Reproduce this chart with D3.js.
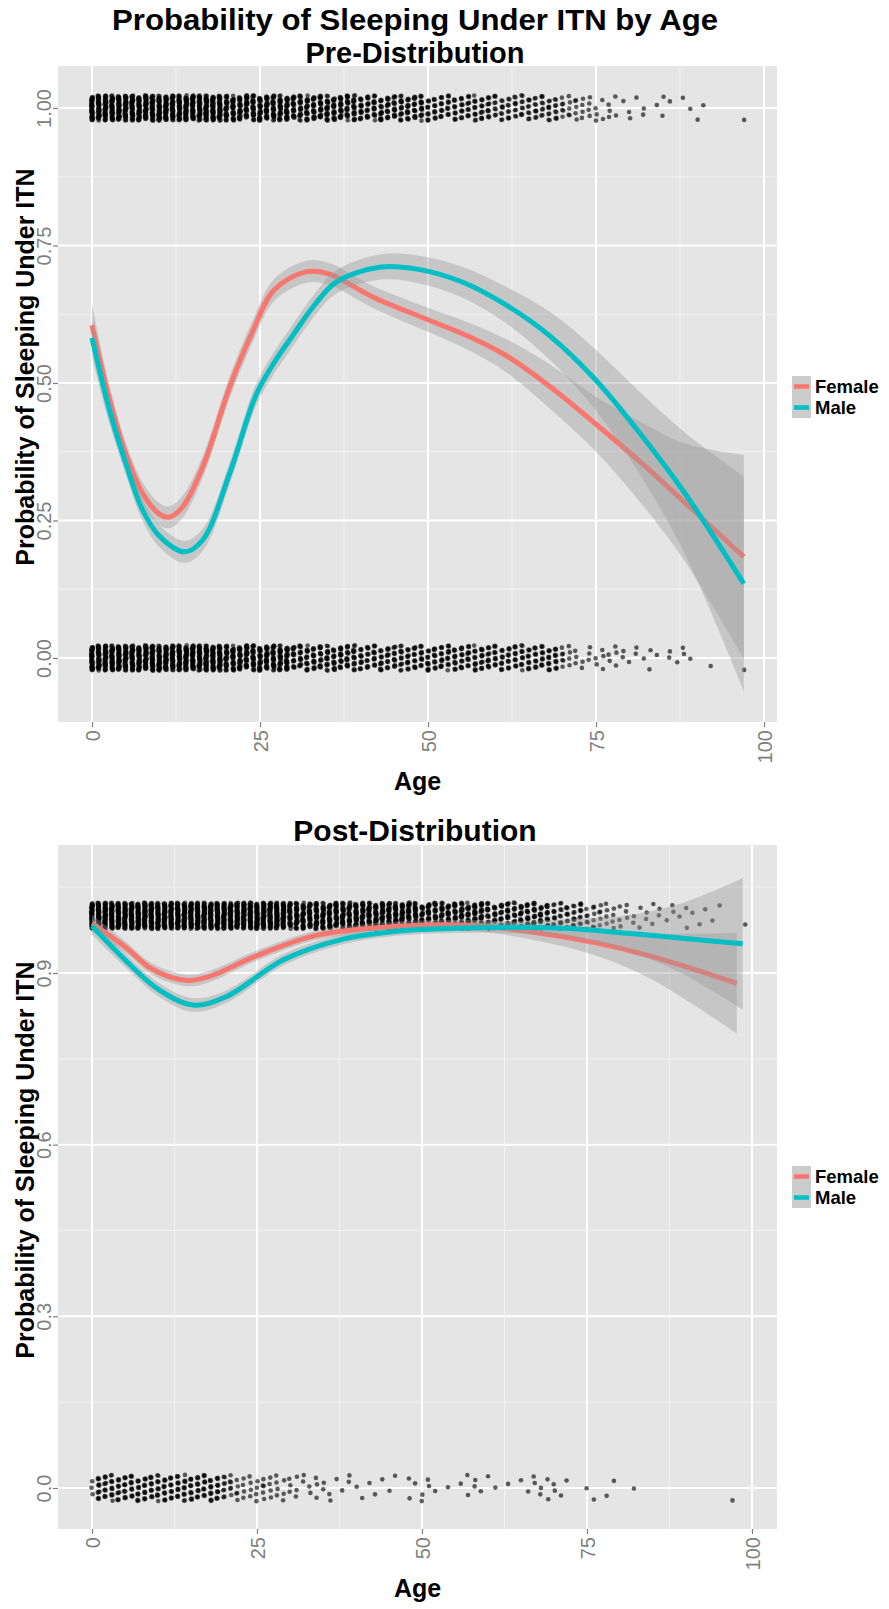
<!DOCTYPE html>
<html><head><meta charset="utf-8">
<script src="https://cdn.jsdelivr.net/npm/d3@7"></script>
<style>
body{margin:0;background:#fff}
text{font-family:"Liberation Sans",Arial,sans-serif}
</style>
</head><body>
<svg id="chart" width="889" height="1609"></svg>
<script>
// ---------------- DATA ----------------
const seriesNames = ["Female", "Male"];
const seriesColors = ["#F8766D", "#00BFC4"];

// Pre-distribution smooth fits (age, fitted probability, CI half-width)
const preFemaleAge = [0, 2.5, 5, 7.5, 10, 11.5, 13.5, 16.5, 20.5, 23.8, 27.1, 31.8, 35.1, 41.7, 50, 56, 61.6, 68, 75, 82, 88.2, 97];
const preFemaleFit = [0.605, 0.475, 0.372, 0.30, 0.262, 0.256, 0.275, 0.348, 0.493, 0.591, 0.669, 0.702, 0.699, 0.657, 0.615, 0.585, 0.550, 0.495, 0.425, 0.352, 0.283, 0.184];
const preFemaleCI  = [0.04, 0.026, 0.021, 0.02, 0.02, 0.02, 0.02, 0.02, 0.02, 0.02, 0.02, 0.02, 0.02, 0.02, 0.022, 0.025, 0.03, 0.04, 0.05, 0.075, 0.107, 0.185];

const preMaleAge = [0, 2.5, 5, 7.5, 10, 13.8, 16.5, 20.5, 24.4, 27, 29.8, 33, 36.4, 43, 48.4, 55, 61.6, 68.3, 75, 81.5, 88.2, 97];
const preMaleFit = [0.582, 0.455, 0.355, 0.27, 0.222, 0.193, 0.215, 0.336, 0.478, 0.535, 0.585, 0.640, 0.684, 0.711, 0.707, 0.684, 0.642, 0.584, 0.505, 0.409, 0.30, 0.135];
const preMaleCI  = [0.035, 0.025, 0.02, 0.02, 0.02, 0.02, 0.02, 0.02, 0.02, 0.02, 0.02, 0.02, 0.021, 0.023, 0.025, 0.028, 0.033, 0.044, 0.055, 0.075, 0.11, 0.195];

// Post-distribution smooth fits
const postFemaleAge = [0, 5, 9.2, 14.4, 17.8, 24.7, 33.3, 41.9, 50.5, 59.1, 67.7, 76.2, 84.8, 97.7];
const postFemaleFit = [0.987, 0.946, 0.906, 0.887, 0.894, 0.929, 0.964, 0.978, 0.984, 0.982, 0.970, 0.953, 0.929, 0.882];
const postFemaleCI  = [0.015, 0.01, 0.01, 0.01, 0.01, 0.009, 0.008, 0.008, 0.008, 0.01, 0.014, 0.022, 0.04, 0.088];

const postMaleAge = [0, 5, 10.1, 15.3, 20.4, 29, 37.6, 46.2, 54.8, 63.3, 72, 80.5, 89.1, 98.6];
const postMaleFit = [0.982, 0.923, 0.871, 0.844, 0.859, 0.923, 0.958, 0.973, 0.978, 0.980, 0.978, 0.970, 0.961, 0.951];
const postMaleCI  = [0.015, 0.012, 0.012, 0.012, 0.011, 0.01, 0.009, 0.008, 0.008, 0.01, 0.016, 0.03, 0.06, 0.115];

// Jittered observations: number of respondents per age (index = age) at outcome 1 and 0
const preOnes = [40,40,40,40,40,40,40,40,40,40, 40,40,40,40,40,40,40,40,40,40,
  30,30,30,30,30,30,30,30,30,30, 24,24,24,24,24,24,24,24,24,24,
  18,18,18,18,18,18,18,18,18,18, 12,12,12,12,12,12,12,12,12,12,
  9,9,9,9,9,9,9,9,9,9,
  6,5,5,4,4,3,2,3,2,1, 2,1,2,0,1,2,1,0,1,1, 1,1,0,0,0,0,0,1];
const preZeros = [40,40,40,40,40,40,40,40,40,40, 40,40,40,40,40,40,40,40,40,40,
  30,30,30,30,30,30,30,30,30,30, 18,18,18,18,18,18,18,18,18,18,
  14,14,14,14,14,14,14,14,14,14, 14,14,14,14,14,14,14,14,14,14,
  12,12,12,12,12,12,12,12,12,12,
  6,4,3,2,3,2,3,2,3,2, 1,2,1,2,1,0,2,1,2,1, 0,0,1,0,0,0,0,1];
const postOnes = [45,45,45,45,45,45,45,45,45,45, 45,45,45,45,45,45,45,45,45,45,
  45,45,45,45,45,45,45,45,45,45, 34,34,34,34,34,34,34,34,34,34,
  34,34,34,34,34,34,34,34,34,34, 26,26,26,26,26,26,26,26,26,26,
  18,18,18,18,18,18,18,18,18,18, 10,10,10,10,10,
  6,6,5,4,4,3,3,2,2,2, 2,2,1,2,1,2,1,1,1,1, 1,0,0,0,1];
const postZeros = [3,12,12,12,12,12,12,12,12,12, 12,12,12,12,12,12,12,12,12,12,
  8,6,5,4,4,4,5,4,4,3, 3,3,2,2,3,2,2,1,1,2,
  1,1,1,1,1,1,1,0,2,1, 2,2,1,0,1,0,1,2,2,1,
  1,1,0,1,0,1,1,2,2,2, 2,1,1,0,0,1,1,0,1,1,
  0,0,1,0,0,0,0,0,0,0, 0,0,0,0,0,0,0,1];

// Tick values / labels
const xTicks = [0, 25, 50, 75, 100];
const xTickLabels = ["0", "25", "50", "75", "100"];
const xMinor = [12.5, 37.5, 62.5, 87.5];
const preYTicks = [0, 0.25, 0.5, 0.75, 1];
const preYTickLabels = ["0.00", "0.25", "0.50", "0.75", "1.00"];
const preYMinor = [0.125, 0.375, 0.625, 0.875];
const postYTicks = [0, 0.3, 0.6, 0.9];
const postYTickLabels = ["0.0", "0.3", "0.6", "0.9"];
const postYMinor = [0.15, 0.45, 0.75, 1.05];

const titleLines = ["Probability of Sleeping Under ITN by Age", "Pre-Distribution"];
const postTitle = "Post-Distribution";
const xTitle = "Age";
const yTitle = "Probability of Sleeping Under ITN";

// ---------------- DRAWING ----------------
const svg = d3.select("#chart");
const FONT = "'Liberation Sans',Arial,sans-serif";

function jitter(counts, yval, jw, jh) {
  const pts = [];
  counts.forEach((n, a) => {
    for (let j = 0; j < n; j++) {
      const u = ((j + 1) * 0.6180339887 + a * 0.3819660113) % 1;
      const v = ((j + 1) * 0.7548776662 + a * 0.5698402910) % 1;
      pts.push({age: a + (u - 0.5) * 2 * jw, y: yval + (v - 0.5) * 2 * jh});
    }
  });
  return pts;
}

function zip(ages, fits, ci) {
  return ages.map((a, i) => ({age: a, fit: fits[i], lo: fits[i] - ci[i], hi: fits[i] + ci[i]}));
}

const panels = [
  {id: "pre", left: 58, right: 777, top: 66, bottom: 722,
   xRange: [92, 764], yDomain: [0, 1], yRange: [658, 108],
   yTicks: preYTicks, yLabels: preYTickLabels, yMinor: preYMinor,
   ones: preOnes, zeros: preZeros,
   series: [zip(preFemaleAge, preFemaleFit, preFemaleCI), zip(preMaleAge, preMaleFit, preMaleCI)],
   xTitleY: 790, legendY: 376},
  {id: "post", left: 58, right: 777, top: 845, bottom: 1529,
   xRange: [92, 752], yDomain: [0, 0.9], yRange: [1488, 973],
   yTicks: postYTicks, yLabels: postYTickLabels, yMinor: postYMinor,
   ones: postOnes, zeros: postZeros,
   series: [zip(postFemaleAge, postFemaleFit, postFemaleCI), zip(postMaleAge, postMaleFit, postMaleCI)],
   xTitleY: 1597, legendY: 1166}
];

panels.forEach(p => {
  const x = d3.scaleLinear().domain([0, 100]).range(p.xRange);
  const y = d3.scaleLinear().domain(p.yDomain).range(p.yRange);
  const g = svg.append("g");

  g.append("clipPath").attr("id", "clip-" + p.id)
    .append("rect").attr("x", p.left).attr("y", p.top)
    .attr("width", p.right - p.left).attr("height", p.bottom - p.top);

  g.append("rect").attr("x", p.left).attr("y", p.top)
    .attr("width", p.right - p.left).attr("height", p.bottom - p.top)
    .attr("fill", "#E5E5E5");

  const grid = g.append("g").attr("clip-path", `url(#clip-${p.id})`);
  grid.selectAll(".vmin").data(xMinor).join("line")
    .attr("x1", d => x(d)).attr("x2", d => x(d)).attr("y1", p.top).attr("y2", p.bottom)
    .attr("stroke", "#F2F2F2").attr("stroke-width", 1);
  grid.selectAll(".hmin").data(p.yMinor).join("line")
    .attr("y1", d => y(d)).attr("y2", d => y(d)).attr("x1", p.left).attr("x2", p.right)
    .attr("stroke", "#F2F2F2").attr("stroke-width", 1);
  grid.selectAll(".vmaj").data(xTicks).join("line")
    .attr("x1", d => x(d)).attr("x2", d => x(d)).attr("y1", p.top).attr("y2", p.bottom)
    .attr("stroke", "#FFFFFF").attr("stroke-width", 2);
  grid.selectAll(".hmaj").data(p.yTicks).join("line")
    .attr("y1", d => y(d)).attr("y2", d => y(d)).attr("x1", p.left).attr("x2", p.right)
    .attr("stroke", "#FFFFFF").attr("stroke-width", 2);

  const plot = g.append("g").attr("clip-path", `url(#clip-${p.id})`);

  // jittered points
  const pts = jitter(p.ones, 1, 0.13, 0.023).concat(jitter(p.zeros, 0, 0.13, 0.023));
  plot.append("g").selectAll("circle").data(pts).join("circle")
    .attr("cx", d => x(d.age)).attr("cy", d => y(d.y)).attr("r", 2.3)
    .attr("fill", "#000").attr("fill-opacity", 0.62);

  // smooths: ribbon then line per group
  const area = d3.area().x(d => x(d.age)).y0(d => y(d.lo)).y1(d => y(d.hi)).curve(d3.curveCatmullRom.alpha(0.5));
  const line = d3.line().x(d => x(d.age)).y(d => y(d.fit)).curve(d3.curveCatmullRom.alpha(0.5));
  p.series.forEach((s, i) => {
    plot.append("path").attr("d", area(s)).attr("fill", "#999999").attr("fill-opacity", 0.4);
    plot.append("path").attr("d", line(s)).attr("fill", "none")
      .attr("stroke", seriesColors[i]).attr("stroke-width", 5).attr("stroke-linejoin", "round");
  });

  // x axis
  const xa = g.append("g").attr("transform", `translate(0,${p.bottom})`)
    .call(d3.axisBottom(x).tickValues(xTicks).tickFormat((d, i) => xTickLabels[i]).tickSize(5).tickPadding(0));
  xa.select(".domain").remove();
  xa.selectAll(".tick line").attr("stroke", "#7F7F7F").attr("stroke-width", 1.2);
  xa.selectAll(".tick text").attr("transform", "rotate(-90)")
    .attr("x", -8).attr("y", 0).attr("dy", "0.36em").attr("text-anchor", "end")
    .attr("fill", "#7F7F7F").style("font-size", "20px").style("font-family", FONT);

  // y axis
  const ya = g.append("g").attr("transform", `translate(${p.left},0)`)
    .call(d3.axisLeft(y).tickValues(p.yTicks).tickFormat((d, i) => p.yLabels[i]).tickSize(5).tickPadding(0));
  ya.select(".domain").remove();
  ya.selectAll(".tick line").attr("stroke", "#7F7F7F").attr("stroke-width", 1.2);
  ya.selectAll(".tick text").attr("transform", "rotate(-90)")
    .attr("x", 0).attr("y", -7).attr("dy", 0).attr("text-anchor", "middle")
    .attr("fill", "#7F7F7F").style("font-size", "20px").style("font-family", FONT);

  // axis titles
  g.append("text").attr("x", (p.left + p.right) / 2).attr("y", p.xTitleY)
    .attr("text-anchor", "middle").attr("font-weight", "bold").attr("font-size", 25).attr("fill", "#000")
    .text(xTitle);
  g.append("text").attr("transform", `translate(34,${(p.top + p.bottom) / 2 - 27}) rotate(-90)`)
    .attr("text-anchor", "middle").attr("font-weight", "bold").attr("font-size", 25).attr("fill", "#000")
    .text(yTitle);

  // legend
  const lg = g.append("g").attr("transform", `translate(792,${p.legendY})`);
  seriesNames.forEach((name, i) => {
    lg.append("rect").attr("x", 0).attr("y", i * 21).attr("width", 19).attr("height", 21).attr("fill", "#CCCCCC");
    lg.append("line").attr("x1", 2).attr("x2", 17).attr("y1", i * 21 + 10.5).attr("y2", i * 21 + 10.5)
      .attr("stroke", seriesColors[i]).attr("stroke-width", 4.5);
    lg.append("text").attr("x", 23).attr("y", i * 21 + 17).attr("font-weight", "bold").attr("font-size", 18.5)
      .attr("fill", "#000").text(name);
  });
});

// titles
svg.append("text").attr("x", 415).attr("y", 30).attr("text-anchor", "middle")
  .attr("font-weight", "bold").attr("font-size", 29)
  .attr("textLength", 606).attr("lengthAdjust", "spacingAndGlyphs").text(titleLines[0]);
svg.append("text").attr("x", 415).attr("y", 62.5).attr("text-anchor", "middle")
  .attr("font-weight", "bold").attr("font-size", 29).text(titleLines[1]);
svg.append("text").attr("x", 415).attr("y", 841).attr("text-anchor", "middle")
  .attr("font-weight", "bold").attr("font-size", 30).text(postTitle);
</script>
</body></html>
